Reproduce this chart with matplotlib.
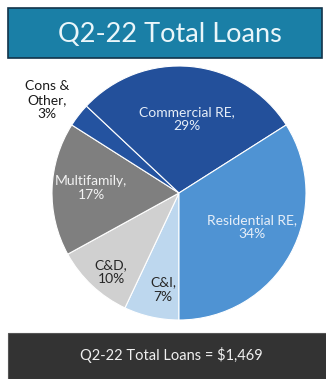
import matplotlib
matplotlib.use("Agg")
import matplotlib.pyplot as plt
from matplotlib.patches import Rectangle

plt.rcParams['font.family'] = ['Lato', 'DejaVu Sans']

# Loan mix, clockwise from the bottom
categories = ["C&I", "C&D", "Multifamily", "Cons &\nOther", "Commercial RE", "Residential RE"]
shares = [7, 10, 17, 3, 29, 34]
colors = ["#bdd7ee", "#d0d0d0", "#7f7f7f", "#2453a0", "#23509b", "#4f93d3"]
text_colors = ["#262626", "#262626", "#f2f2f2", "#1a1a1a", "#e6eef8", "#e6eef8"]
label_xy = [(-0.126, -0.76), (-0.535, -0.62), (-0.69, 0.04), (-1.04, 0.73), (0.06, 0.58), (0.575, -0.27)]

title = "Q2-22 Total Loans"
footer = "Q2-22 Total Loans = $1,469"

W, H = 326, 379
fig = plt.figure(figsize=(W / 100, H / 100), dpi=100)
fig.patch.set_facecolor("white")

# Header banner
fig.patches.append(Rectangle((8 / W, 1 - 58 / H), 314 / W, 50 / H, transform=fig.transFigure,
                             facecolor="#1a7fa6", edgecolor="#12344a", linewidth=1.2))
fig.text(170 / W, 1 - 34 / H, title, ha="center", va="center", fontsize=19.5, color="#eaf6fa")

# Footer bar
fig.patches.append(Rectangle((8 / W, 0), 320 / W, (H - 333) / H, transform=fig.transFigure,
                             facecolor="#333333", edgecolor="#555555", linewidth=0.8))
fig.text(171 / W, 1 - 355 / H, footer, ha="center", va="center", fontsize=10.5, color="#f0f0f0")

# Pie
cx, cy, r = 179, 193, 127
ax = fig.add_axes([(cx - r) / W, (H - cy - r) / H, 2 * r / W, 2 * r / H])
ax.pie(shares, colors=colors, startangle=270, counterclock=False,
       wedgeprops=dict(edgecolor="white", linewidth=0.8))
ax.set_xlim(-1, 1)
ax.set_ylim(-1, 1)
ax.set_aspect("auto")
ax.axis("off")

for name, val, (x, y), tc in zip(categories, shares, label_xy, text_colors):
    ax.text(x, y, f"{name},\n{val}%", ha="center", va="center", fontsize=10,
            color=tc, linespacing=1.2)

fig.savefig("out.png", dpi=100)
